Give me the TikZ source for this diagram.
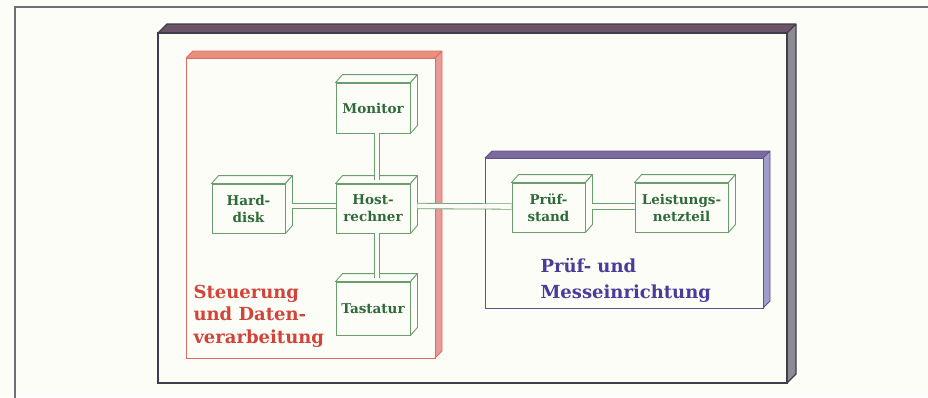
\documentclass[tikz,border=0pt]{standalone}
\usepackage{fontspec}
\setmainfont{DejaVu Serif}
\usetikzlibrary{calc}

\definecolor{paper}{HTML}{FDFDF8}
\definecolor{framegrey}{HTML}{707074}
\definecolor{bigtop}{HTML}{6E5468}
\definecolor{bigside}{HTML}{8C8A92}
\definecolor{bigline}{HTML}{3E3E4C}
\definecolor{redtop}{HTML}{E8907E}
\definecolor{redside}{HTML}{EA9A96}
\definecolor{redline}{HTML}{E06A62}
\definecolor{redtxt}{HTML}{D0443A}
\definecolor{bluetop}{HTML}{7C6A9E}
\definecolor{blueside}{HTML}{A09CCC}
\definecolor{blueline}{HTML}{5C5488}
\definecolor{bluetxt}{HTML}{4A3C98}
\definecolor{boxgreen}{HTML}{6A9E6C}
\definecolor{txtgreen}{HTML}{2E6A3A}

% a flat box seen slightly from above and right: front x1,y1,x2,y2, depth d
\newcommand\slab[9]{%
  \fill[#6] (#1,#2) -- ++(#5,-#5) -- (#3+#5,#2-#5) -- (#3,#2) -- cycle;
  \fill[#7] (#3,#2) -- (#3+#5,#2-#5) -- (#3+#5,#4-#5) -- (#3,#4) -- cycle;
  \draw[#8, line width=#9, line join=round]
    (#1,#2) -- ++(#5,-#5) -- (#3+#5,#2-#5) -- (#3+#5,#4-#5) -- (#3,#4)
    (#3,#2) -- (#3+#5,#2-#5);
  \draw[#8, line width=#9] (#1,#2) rectangle (#3,#4);
}

\tikzset{
  gbox/.style={draw=boxgreen, line width=0.9pt, fill=paper, inner sep=0pt,
    minimum height=49, align=center, text=txtgreen,
    font=\bfseries\fontsize{13.5}{17}\selectfont},
  pipe/.style={draw=boxgreen, line width=0.8pt, double=paper,
    double distance=4.6pt},
  face/.style={draw=boxgreen, line width=0.9pt, fill=paper, line join=round},
  grouplabel/.style={anchor=base west, align=left},
}

\begin{document}
\begin{tikzpicture}[x=1pt,y=-1pt]
\fill[paper] (0,0) rectangle (928,397);
\useasboundingbox (0,0) rectangle (928,397);

% outer frame
\draw[framegrey, line width=1.4pt] (15,400) -- (15,7) -- (930,7);

% enclosing box
\slab{158}{33}{787}{383}{9}{bigtop}{bigside}{bigline}{1.3pt}

% control and data processing
\slab{186}{58}{435}{358}{7}{redtop}{redside}{redline}{0.9pt}

% test and measurement
\slab{485}{158}{763}{308}{7}{bluetop}{blueside}{blueline}{0.9pt}

% components
\node[gbox, minimum width=74, minimum height=50] (mon)  at (373,108)   {Monitor};
\node[gbox, minimum width=74] (host) at (373,208.5) {Host-\\rechner};
\node[gbox, minimum width=73] (hd)   at (248.5,208.5) {Hard-\\disk};
\node[gbox, minimum width=74, minimum height=53] (tast) at (373,308.5) {Tastatur};
\node[gbox, minimum width=73] (pst)  at (548.5,207.5) {Prüf-\\stand};
\node[gbox, minimum width=93] (lnt)  at (681.5,207.5) {Leistungs-\\netzteil};

\foreach \n in {mon,host,hd,tast,pst,lnt}{
  \draw[face] (\n.north west) -- ++(7,-8) -- ($(\n.north east)+(7,-8)$)
    -- (\n.north east) -- cycle;
  \draw[face] (\n.north east) -- ++(7,-8) -- ($(\n.south east)+(7,-8)$)
    -- (\n.south east) -- cycle;
}

% links
\draw[pipe] ($(mon.south)+(4,0)$) -- ($(host.north)+(4,-4)$);
\draw[pipe] ($(host.south)+(4,0)$) -- ($(tast.north)+(4,-4)$);
\draw[pipe] ($(hd.east)+(7,-2.5)$) -- ($(host.west)+(0,-2.5)$);
\draw[pipe] ($(host.east)+(7,-2.5)$) -- ($(pst.west)+(0,-1)$);
\draw[pipe] ($(pst.east)+(7,-1)$) -- ($(lnt.west)+(0,-1)$);

% group labels (anchored at the baseline of the last line)
\node[grouplabel, text=redtxt, font=\bfseries\fontsize{18}{22.5}\selectfont]
  (ctl) at (190,343) {Steuerung\\und Daten-\\verarbeitung};
\node[grouplabel, text=bluetxt, font=\bfseries\fontsize{18}{26}\selectfont]
  (mes) at (537,298) {Prüf- und\\Messeinrichtung};
\end{tikzpicture}
\end{document}
